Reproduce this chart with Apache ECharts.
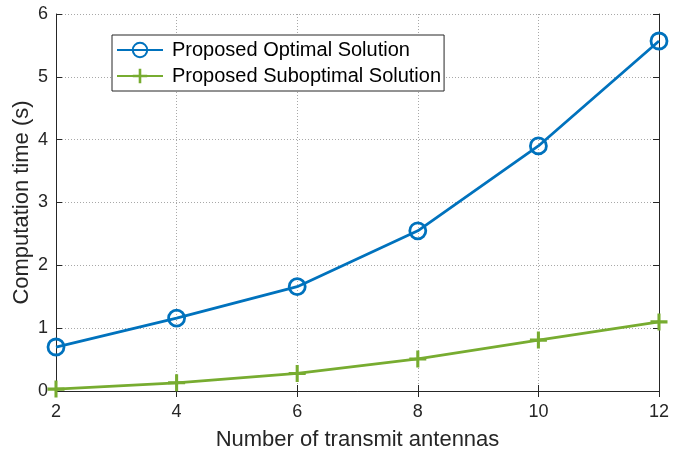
<!DOCTYPE html>
<html>
<head>
<meta charset="utf-8">
<script src="https://cdn.jsdelivr.net/npm/echarts@6/dist/echarts.min.js"></script>
<style>
  html, body { margin: 0; padding: 0; background: #fff; }
  #chart { width: 680px; height: 451px; }
</style>
</head>
<body>
<div id="chart"></div>
<script>
// Computation time versus number of transmit antennas
const antennas = [2, 4, 6, 8, 10, 12];
const optimalTime = [0.70, 1.16, 1.66, 2.55, 3.90, 5.57];
const suboptimalTime = [0.03, 0.13, 0.28, 0.51, 0.81, 1.10];
const xTicks = [2, 4, 6, 8, 10, 12];
const yTicks = [0, 1, 2, 3, 4, 5, 6];

const FONT = 'Liberation Sans, Arial, Helvetica, sans-serif';
const BLUE = '#0072BD';
const GREEN = '#77AC30';
const PLUS = 'path://M-0.18,-1 L0.18,-1 L0.18,-0.18 L1,-0.18 L1,0.18 L0.18,0.18 L0.18,1 L-0.18,1 L-0.18,0.18 L-1,0.18 L-1,-0.18 L-0.18,-0.18 Z';

const pairs = (ys) => antennas.map((x, i) => [x, ys[i]]);

const gridLine = { show: true, lineStyle: { color: '#a8a8a8', type: [1, 2], width: 1 } };
const boxLine = { show: true, lineStyle: { color: '#262626', width: 1 } };
const tick = { show: true, inside: true, length: 6, lineStyle: { color: '#262626' } };

const chart = echarts.init(document.getElementById('chart'));
chart.setOption({
  animation: false,
  textStyle: { fontFamily: FONT },
  grid: {
    left: 56, top: 14, width: 603, height: 377,
    containLabel: false,
    outerBoundsMode: 'none'
  },
  legend: {
    orient: 'vertical',
    left: 112,
    top: 35,
    padding: [5, 3, 5, 4],
    itemGap: 6,
    itemWidth: 46,
    itemHeight: 18,
    borderColor: '#262626',
    borderWidth: 1,
    backgroundColor: '#fff',
    textStyle: { fontFamily: FONT, fontSize: 20, color: '#000', padding: [0, 0, 0, 4] },
    data: ['Proposed Optimal Solution', 'Proposed Suboptimal Solution']
  },
  xAxis: [{
    type: 'value',
    min: xTicks[0],
    max: xTicks[xTicks.length - 1],
    interval: 2,
    name: 'Number of transmit antennas',
    nameLocation: 'middle',
    nameGap: 38,
    nameTextStyle: { fontFamily: FONT, fontSize: 22, color: '#262626' },
    axisLine: boxLine,
    axisTick: tick,
    axisLabel: { fontFamily: FONT, fontSize: 18, color: '#262626', margin: 12 },
    splitLine: gridLine
  }, {
    type: 'value',
    position: 'top',
    min: xTicks[0],
    max: xTicks[xTicks.length - 1],
    interval: 2,
    axisLine: boxLine,
    axisTick: tick,
    axisLabel: { show: false },
    splitLine: { show: false }
  }],
  yAxis: [{
    type: 'value',
    min: yTicks[0],
    max: yTicks[yTicks.length - 1],
    interval: 1,
    name: 'Computation time (s)',
    nameLocation: 'middle',
    nameGap: 23,
    nameMoveOverlap: false,
    nameTextStyle: { fontFamily: FONT, fontSize: 22, color: '#262626' },
    axisLine: boxLine,
    axisTick: tick,
    axisLabel: { fontFamily: FONT, fontSize: 18, color: '#262626', margin: 8 },
    splitLine: gridLine
  }, {
    type: 'value',
    position: 'right',
    min: yTicks[0],
    max: yTicks[yTicks.length - 1],
    interval: 1,
    axisLine: boxLine,
    axisTick: tick,
    axisLabel: { show: false },
    splitLine: { show: false }
  }],
  series: [{
    name: 'Proposed Optimal Solution',
    type: 'line',
    data: pairs(optimalTime),
    color: BLUE,
    lineStyle: { color: BLUE, width: 2.8 },
    symbol: 'circle',
    symbolSize: 16,
    itemStyle: { color: 'rgba(255,255,255,0)', borderColor: BLUE, borderWidth: 2.8 },
    clip: false,
    z: 3
  }, {
    name: 'Proposed Suboptimal Solution',
    type: 'line',
    data: pairs(suboptimalTime),
    color: GREEN,
    lineStyle: { color: GREEN, width: 2.8 },
    symbol: PLUS,
    symbolSize: 17,
    itemStyle: { color: GREEN, borderWidth: 0 },
    clip: false,
    z: 3
  }]
});
</script>
</body>
</html>
